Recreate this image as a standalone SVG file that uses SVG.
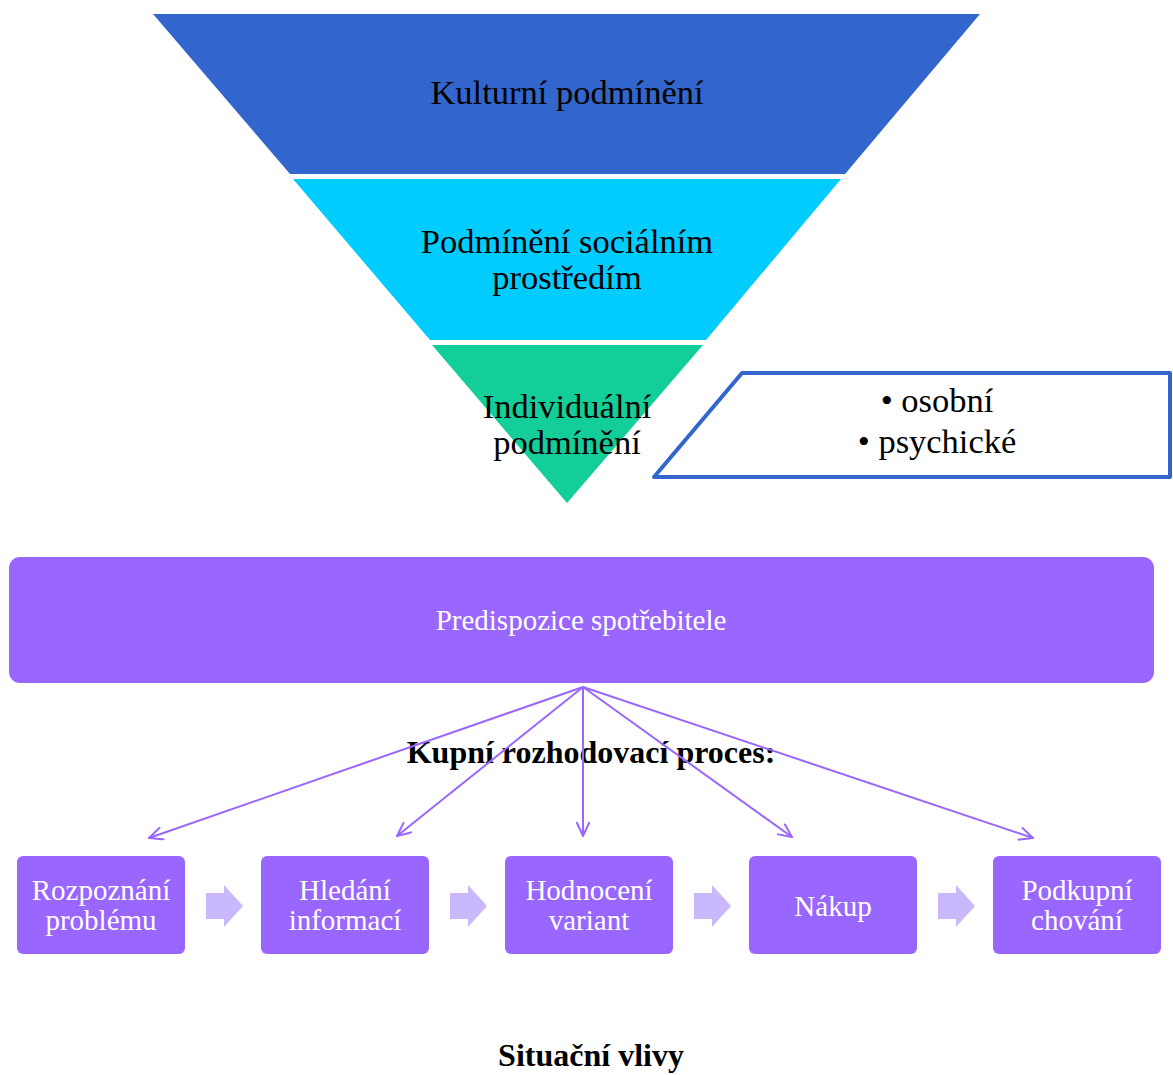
<svg xmlns="http://www.w3.org/2000/svg" width="1173" height="1075" viewBox="0 0 1173 1075">
  <defs>
    <style>
      .serif { font-family: "Liberation Serif", "Times New Roman", serif; }
      .band { font-size: 34.5px; fill: #000000; text-anchor: middle; }
      .bold { font-size: 32px; font-weight: bold; fill: #000000; text-anchor: middle; }
      .white { font-size: 29px; fill: #FFFFFF; text-anchor: middle; }
      .step { fill: #9966FF; }
      .chev { fill: #C9B8FC; }
      .link { stroke: #9966FF; stroke-width: 2; fill: none; }
    </style>
    <marker id="vhead" viewBox="0 0 16 14" refX="15" refY="7" markerWidth="16" markerHeight="14" markerUnits="userSpaceOnUse" orient="auto">
      <path d="M1,0.5 L15,7 L1,13.5" fill="none" stroke="#9966FF" stroke-width="2"/>
    </marker>
  </defs>

  <rect width="1173" height="1075" fill="#FFFFFF"/>

  <!-- Funnel of conditioning levels -->
  <g id="kulturni">
    <polygon points="153,14 980,14 845,174 290,174" fill="#3366CC"/>
    <text class="serif band" x="567" y="104">Kulturní podmínění</text>
  </g>
  <g id="socialni">
    <polygon points="293,179 841,179 706,340 430,340" fill="#00CCFF"/>
    <text class="serif band" x="567" y="253">Podmínění sociálním</text>
    <text class="serif band" x="567" y="289">prostředím</text>
  </g>
  <g id="individualni">
    <polygon points="432,345 703,345 567,503" fill="#13CE99"/>
    <text class="serif band" x="567" y="418">Individuální</text>
    <text class="serif band" x="567" y="454">podmínění</text>
  </g>

  <!-- Individual factors callout -->
  <g id="faktory">
    <polygon points="742,373 1170,373 1170,477 654,477" fill="#FFFFFF" stroke="#3366CC" stroke-width="4" stroke-linejoin="round"/>
    <text class="serif band" x="937" y="412">• osobní</text>
    <text class="serif band" x="937" y="453">• psychické</text>
  </g>

  <!-- Consumer predisposition bar -->
  <g id="predispozice">
    <rect x="9" y="557" width="1145" height="126" rx="11" class="step"/>
    <text class="serif white" x="581" y="630">Predispozice spotřebitele</text>
  </g>

  <g id="nadpis-proces">
    <text class="serif bold" x="591" y="763">Kupní rozhodovací proces:</text>
  </g>

  <!-- Influence connectors from predisposition to each step -->
  <g id="connectors">
    <line class="link" x1="583" y1="687" x2="149" y2="838" marker-end="url(#vhead)"/>
    <line class="link" x1="583" y1="687" x2="397" y2="836" marker-end="url(#vhead)"/>
    <line class="link" x1="583" y1="687" x2="583" y2="836" marker-end="url(#vhead)"/>
    <line class="link" x1="583" y1="687" x2="792" y2="837" marker-end="url(#vhead)"/>
    <line class="link" x1="583" y1="687" x2="1033" y2="838" marker-end="url(#vhead)"/>
  </g>

  <!-- Decision process steps -->
  <g id="krok-rozpoznani">
    <rect x="17" y="856" width="168" height="98" rx="6" class="step"/>
    <text class="serif white" x="101" y="900">Rozpoznání</text>
    <text class="serif white" x="101" y="930">problému</text>
  </g>
  <g id="krok-hledani">
    <rect x="261" y="856" width="168" height="98" rx="6" class="step"/>
    <text class="serif white" x="345" y="900">Hledání</text>
    <text class="serif white" x="345" y="930">informací</text>
  </g>
  <g id="krok-hodnoceni">
    <rect x="505" y="856" width="168" height="98" rx="6" class="step"/>
    <text class="serif white" x="589" y="900">Hodnocení</text>
    <text class="serif white" x="589" y="930">variant</text>
  </g>
  <g id="krok-nakup">
    <rect x="749" y="856" width="168" height="98" rx="6" class="step"/>
    <text class="serif white" x="833" y="916">Nákup</text>
  </g>
  <g id="krok-podkupni">
    <rect x="993" y="856" width="168" height="98" rx="6" class="step"/>
    <text class="serif white" x="1077" y="900">Podkupní</text>
    <text class="serif white" x="1077" y="930">chování</text>
  </g>

  <!-- Step-to-step chevrons -->
  <g id="sipky">
    <polygon class="chev" points="206,893 224,893 224,885 243,906 224,927 224,919 206,919"/>
    <polygon class="chev" points="450,893 468,893 468,885 487,906 468,927 468,919 450,919"/>
    <polygon class="chev" points="694,893 712,893 712,885 731,906 712,927 712,919 694,919"/>
    <polygon class="chev" points="938,893 956,893 956,885 975,906 956,927 956,919 938,919"/>
  </g>

  <g id="situacni-vlivy">
    <text class="serif bold" x="591" y="1066">Situační vlivy</text>
  </g>
</svg>
